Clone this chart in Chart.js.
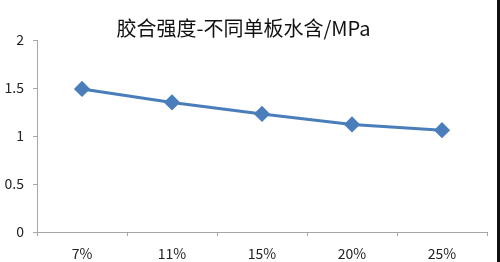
<!DOCTYPE html>
<html>
<head>
<meta charset="utf-8">
<script src="https://cdn.jsdelivr.net/npm/chart.js@4/dist/chart.umd.min.js"></script>
<style>
  html, body { margin: 0; padding: 0; background: #fff; }
  #wrap { width: 497px; height: 262px; border-right: 3px solid #111; }
</style>
</head>
<body>
<div id="wrap"><canvas id="lineChart" width="497" height="262"></canvas></div>
<script>
// Données
const categories = ['7%', '11%', '15%', '20%', '25%'];
const strengthValues = [1.49, 1.35, 1.23, 1.12, 1.06];
const yTicks = [0, 0.5, 1, 1.5, 2];

const lineBlue = '#4a7ebb';
const axisGray = '#a6a6a6';
const fontFamily = '"Noto Sans CJK SC", "Noto Sans", sans-serif';

const ctx = document.getElementById('lineChart').getContext('2d');
const chart = new Chart(ctx, {
    type: 'line',
    data: {
        labels: categories,
        datasets: [{
            data: strengthValues,
            borderColor: lineBlue,
            backgroundColor: lineBlue,
            borderWidth: 3,
            pointStyle: 'rectRot',
            pointRadius: 6,
            pointHoverRadius: 6,
            tension: 0
        }]
    },
    options: {
        responsive: false,
        animation: false,
        layout: { padding: { left: 0, right: 10, top: 0, bottom: 0 } },
        plugins: {
            legend: { display: false },
            tooltip: { enabled: false },
            title: {
                display: true,
                text: '胶合强度-不同单板水含/MPa',
                color: '#111',
                font: { family: fontFamily, size: 20, weight: 'normal' },
                padding: { top: 16, bottom: 0 }
            }
        },
        scales: {
            x: {
                offset: true,
                grid: { offset: true, drawOnChartArea: false, drawTicks: true, tickLength: 4, color: axisGray },
                border: { display: true, color: axisGray, width: 1 },
                ticks: { color: '#222', font: { family: fontFamily, size: 14 }, padding: 9 },
                afterFit: scale => { scale.height = 30; }
            },
            y: {
                min: 0,
                max: 2,
                afterBuildTicks: scale => { scale.ticks = yTicks.map(v => ({ value: v })); },
                grid: { drawOnChartArea: false, drawTicks: true, tickLength: 4, color: axisGray },
                border: { display: true, color: axisGray, width: 1 },
                ticks: {
                    color: '#222',
                    font: { family: fontFamily, size: 14 },
                    padding: 9,
                    callback: value => String(value)
                },
                afterFit: scale => { scale.width = 37; }
            }
        }
    }
});
</script>
</body>
</html>
